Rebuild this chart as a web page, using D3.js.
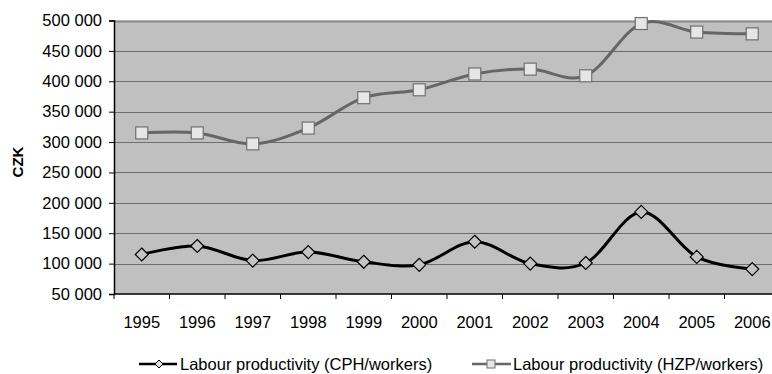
<!DOCTYPE html>
<html>
<head>
<meta charset="utf-8">
<script src="https://cdn.jsdelivr.net/npm/d3@7/dist/d3.min.js"></script>
<style>
  html, body { margin: 0; padding: 0; background: #fff; }
  svg { display: block; font-family: "Liberation Sans", Arial, sans-serif; }
</style>
</head>
<body>
<svg id="chart" width="772" height="374"></svg>
<script>
const years = ["1995","1996","1997","1998","1999","2000","2001","2002","2003","2004","2005","2006"];
const cphValues = [115000, 129000, 105000, 119000, 103000, 98000, 136000, 100000, 101000, 185000, 111000, 91000];
const hzpValues = [315000, 315000, 297000, 323000, 373000, 386000, 412000, 420000, 409000, 495000, 481000, 478000];
const yTicks = [50000, 100000, 150000, 200000, 250000, 300000, 350000, 400000, 450000, 500000];
const seriesNames = ["Labour productivity (CPH/workers)", "Labour productivity (HZP/workers)"];
const yLabel = "CZK";

(function () {
const svg = d3.select("#chart");
const pL = 114, pR = 780, pT = 20.5, pB = 294;
const FONT = "Liberation Sans, Arial, sans-serif";

const x = d3.scaleBand().domain(years).range([pL, pR]).paddingInner(0).paddingOuter(0);
const y = d3.scaleLinear().domain([50000, 500000]).range([pB, pT]);
const fmt = v => d3.format(",")(v).replace(/,/g, " ");

// plot background
svg.append("rect").attr("x", pL).attr("y", pT).attr("width", pR - pL).attr("height", pB - pT).attr("fill", "#c0c0c0");

// gridlines
svg.append("g").selectAll("line").data(yTicks.filter(t => t > 50000)).join("line")
  .attr("x1", pL).attr("x2", pR)
  .attr("y1", d => Math.round(y(d)) + 0.5).attr("y2", d => Math.round(y(d)) + 0.5)
  .attr("stroke", d => d === 500000 ? "#8a8a8a" : "#6e6e6e")
  .attr("stroke-width", d => d === 500000 ? 2 : 1);

// y axis
const yAxis = d3.axisLeft(y).tickValues(yTicks).tickFormat(fmt).tickSize(5).tickPadding(7);
const gy = svg.append("g").attr("transform", `translate(${pL},0)`).call(yAxis);
gy.attr("font-family", FONT);
gy.select(".domain").attr("stroke", "#000").attr("stroke-width", 1.5);
gy.selectAll(".tick line").attr("stroke", "#000");
gy.selectAll("text").attr("font-size", 16.5).attr("fill", "#000");

// x axis
const xTickScale = d3.scaleLinear().domain([0, years.length]).range([pL, pR]);
const gx = svg.append("g").attr("transform", `translate(0,${pB})`).attr("font-family", FONT);
gx.append("line").attr("x1", pL).attr("x2", pR).attr("y1", 0).attr("y2", 0).attr("stroke", "#000").attr("stroke-width", 1.5);
gx.selectAll("line.tk").data(d3.range(0, years.length + 1)).join("line").attr("class", "tk")
  .attr("x1", d => xTickScale(d)).attr("x2", d => xTickScale(d)).attr("y1", 0).attr("y2", 5)
  .attr("stroke", "#000");
gx.selectAll("text").data(years).join("text")
  .attr("x", d => x(d) + x.bandwidth() / 2).attr("y", 34)
  .attr("text-anchor", "middle").attr("font-size", 16.5).attr("fill", "#000")
  .text(d => d);

// y label
svg.append("text").attr("transform", `translate(23,162) rotate(-90)`)
  .attr("text-anchor", "middle").attr("font-size", 15).attr("font-weight", "bold")
  .attr("font-family", FONT)
  .text(yLabel);

const cx = d => x(d) + x.bandwidth() / 2;
const line = d3.line().curve(d3.curveCardinal.tension(0)).x(d => cx(d[0])).y(d => y(d[1]));

const plot = svg.append("g");
const hzp = years.map((yr, i) => [yr, hzpValues[i]]);
const cph = years.map((yr, i) => [yr, cphValues[i]]);
plot.append("path").datum(hzp).attr("d", line).attr("fill", "none").attr("stroke", "#666").attr("stroke-width", 3);
plot.append("path").datum(cph).attr("d", line).attr("fill", "none").attr("stroke", "#000").attr("stroke-width", 3);

const sq = 12;
plot.selectAll("rect.hzp").data(hzp).join("rect").attr("class", "hzp")
  .attr("x", d => cx(d[0]) - sq / 2).attr("y", d => y(d[1]) - sq / 2)
  .attr("width", sq).attr("height", sq)
  .attr("fill", "#e6e6e6").attr("stroke", "#707070").attr("stroke-width", 1.2);

const diamond = (px, py, r) => `M${px},${py - r}L${px + r},${py}L${px},${py + r}L${px - r},${py}Z`;
plot.selectAll("path.cph").data(cph).join("path").attr("class", "cph")
  .attr("d", d => diamond(cx(d[0]), y(d[1]), 6.5))
  .attr("fill", "#c4c4c4").attr("stroke", "#000").attr("stroke-width", 1.2);

// legend
const ly = 364;
const leg = svg.append("g").attr("font-family", FONT);
leg.append("line").attr("x1", 139).attr("x2", 177).attr("y1", ly).attr("y2", ly).attr("stroke", "#000").attr("stroke-width", 2.5);
leg.append("path").attr("d", diamond(159, ly, 4)).attr("fill", "#e0e0e0").attr("stroke", "#000").attr("stroke-width", 1);
leg.append("text").attr("x", 180).attr("y", ly + 5.5).attr("font-size", 16.5).text(seriesNames[0]);

leg.append("line").attr("x1", 472).attr("x2", 511).attr("y1", ly).attr("y2", ly).attr("stroke", "#666").attr("stroke-width", 2.5);
leg.append("rect").attr("x", 487).attr("y", ly - 4).attr("width", 8).attr("height", 8).attr("fill", "#e6e6e6").attr("stroke", "#707070").attr("stroke-width", 1);
leg.append("text").attr("x", 513).attr("y", ly + 5.5).attr("font-size", 16.5).text(seriesNames[1]);
})();
</script>
</body>
</html>
